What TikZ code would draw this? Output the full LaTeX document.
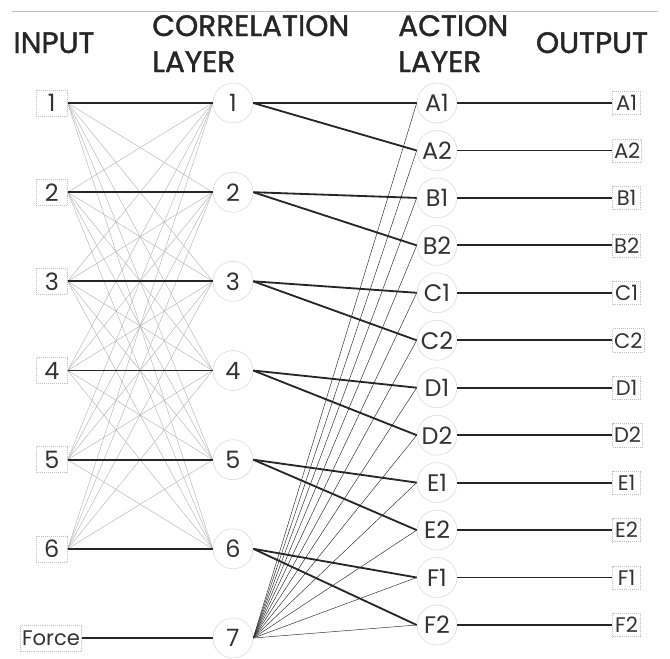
\documentclass[tikz,border=0pt]{standalone}
\usepackage{fontspec}
\setmainfont{Poppins}
\newfontfamily\hdrfont{Poppins}[FakeBold=1.3]
\usetikzlibrary{positioning}

\begin{document}
\begin{tikzpicture}[
  x=0.025cm,y=-0.025cm,
  every node/.style={font=\fontsize{17}{17}\selectfont,text=black!80},
  inbox/.style={draw=black!25,densely dotted,minimum width=0.78cm,
                minimum height=0.65cm,inner sep=1pt},
  outbox/.style={draw=black!25,densely dotted,minimum width=0.7cm,
                 minimum height=0.58cm,inner sep=1pt,
                 font=\fontsize{15}{15}\selectfont},
  unit/.style={circle,draw=black!15,fill=white,minimum size=1cm,inner sep=0pt},
  hdr/.style={font=\hdrfont\fontsize{21}{25.6}\selectfont,align=left,
              inner sep=0pt,fill=white,text=black!85},
  wire/.style={line width=1.3pt,draw=black!85},
  mesh/.style={draw=black!30,line width=0.3pt},
  fan/.style={draw=black!80,line width=0.35pt}
]
\useasboundingbox (0,0) rectangle (670,658);

%% rule under the page top
\coordinate (ruleL) at (12,11);
\coordinate (ruleR) at (658,11);
\draw[black!25] (ruleL) -- (ruleR);

%% headers
\node[hdr,anchor=base] (hin)  at (54,53)  {INPUT};
\node[hdr,anchor=base west] (hcor) at (152,72) {CORRELATION\\LAYER};
\node[hdr,anchor=base west] (hact) at (398,72) {ACTION\\LAYER};
\node[hdr,anchor=base] (hout) at (592,53) {OUTPUT};

%% correlation layer
\node[unit] (c1) at (233,103)   {1};
\node[unit] (c2) at (233,192.2) {2};
\node[unit] (c3) at (233,281.3) {3};
\node[unit] (c4) at (233,370.5) {4};
\node[unit] (c5) at (233,459.7) {5};
\node[unit] (c6) at (233,548.8) {6};
\node[unit] (c7) at (233,638)   {7};

%% inputs
\node[inbox,left=3.625cm of c1] (in1) {1};
\node[inbox,left=3.625cm of c2] (in2) {2};
\node[inbox,left=3.625cm of c3] (in3) {3};
\node[inbox,left=3.625cm of c4] (in4) {4};
\node[inbox,left=3.625cm of c5] (in5) {5};
\node[inbox,left=3.625cm of c6] (in6) {6};
\node[inbox,left=3.275cm of c7,font=\fontsize{15}{15}\selectfont] (force) {Force};

%% action layer
\node[unit] (a1) at (437,103)   {A1};
\node[unit] (a2) at (437,150.5) {A2};
\node[unit] (b1) at (437,197.9) {B1};
\node[unit] (b2) at (437,245.4) {B2};
\node[unit] (c1x) at (437,292.8) {C1};
\node[unit] (c2x) at (437,340.3) {C2};
\node[unit] (d1) at (437,387.7) {D1};
\node[unit] (d2) at (437,435.2) {D2};
\node[unit] (e1) at (437,482.6) {E1};
\node[unit] (e2) at (437,530.1) {E2};
\node[unit] (f1) at (437,577.5) {F1};
\node[unit] (f2) at (437,625)   {F2};

%% outputs
\node[outbox,right=3.875cm of a1]  (oa1) {A1};
\node[outbox,right=3.875cm of a2]  (oa2) {A2};
\node[outbox,right=3.875cm of b1]  (ob1) {B1};
\node[outbox,right=3.875cm of b2]  (ob2) {B2};
\node[outbox,right=3.875cm of c1x] (oc1) {C1};
\node[outbox,right=3.875cm of c2x] (oc2) {C2};
\node[outbox,right=3.875cm of d1]  (od1) {D1};
\node[outbox,right=3.875cm of d2]  (od2) {D2};
\node[outbox,right=3.875cm of e1]  (oe1) {E1};
\node[outbox,right=3.875cm of e2]  (oe2) {E2};
\node[outbox,right=3.875cm of f1]  (of1) {F1};
\node[outbox,right=3.875cm of f2]  (of2) {F2};

%% input -> correlation, all pairs
\foreach \i in {1,...,6}
  \foreach \j in {1,...,6}
    \draw[mesh] (in\i.east) -- (c\j.west);

%% force unit fans out to every action
\foreach \a in {a1,a2,b1,b2,c1x,c2x,d1,d2,e1,e2,f1,f2}
  \draw[fan] (c7.east) -- (\a.west);

%% main paths
\draw[wire] (in1.east) -- (c1.west);
\draw[wire] (in2.east) -- (c2.west);
\draw[wire] (in3.east) -- (c3.west);
\draw[wire] (in4.east) -- (c4.west);
\draw[wire] (in5.east) -- (c5.west);
\draw[wire] (in6.east) -- (c6.west);
\draw[wire] (force.east) -- (c7.west);

\draw[wire] (c1.east) -- (a1.west);  \draw[wire] (c1.east) -- (a2.west);
\draw[wire] (c2.east) -- (b1.west);  \draw[wire] (c2.east) -- (b2.west);
\draw[wire] (c3.east) -- (c1x.west); \draw[wire] (c3.east) -- (c2x.west);
\draw[wire] (c4.east) -- (d1.west);  \draw[wire] (c4.east) -- (d2.west);
\draw[wire] (c5.east) -- (e1.west);  \draw[wire] (c5.east) -- (e2.west);
\draw[wire] (c6.east) -- (f1.west);  \draw[wire] (c6.east) -- (f2.west);

\draw[wire] (a1.east)  -- (oa1.west);
\draw[wire] (a2.east)  -- (oa2.west);
\draw[wire] (b1.east)  -- (ob1.west);
\draw[wire] (b2.east)  -- (ob2.west);
\draw[wire] (c1x.east) -- (oc1.west);
\draw[wire] (c2x.east) -- (oc2.west);
\draw[wire] (d1.east)  -- (od1.west);
\draw[wire] (d2.east)  -- (od2.west);
\draw[wire] (e1.east)  -- (oe1.west);
\draw[wire] (e2.east)  -- (oe2.west);
\draw[wire] (f1.east)  -- (of1.west);
\draw[wire] (f2.east)  -- (of2.west);

\end{tikzpicture}
\end{document}
